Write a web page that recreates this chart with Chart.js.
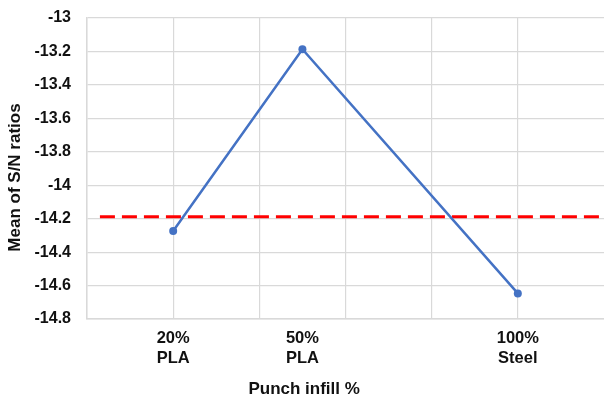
<!DOCTYPE html>
<html>
<head>
<meta charset="utf-8">
<script src="https://cdn.jsdelivr.net/npm/chart.js@4/dist/chart.umd.min.js"></script>
<style>
  html, body { margin: 0; padding: 0; background: #ffffff; }
  #wrap { width: 604px; height: 396px; }
</style>
</head>
<body>
<div id="wrap"><canvas id="c" width="604" height="396"></canvas></div>
<script>
// Main effect of punch infill on the mean S/N ratio
const infillPct = [20, 50, 100];
const infillLabels = [['20%', 'PLA'], ['50%', 'PLA'], ['100%', 'Steel']];
const snMeans = [-14.274, -13.187, -14.647];

// Overall mean of S/N ratios (dashed reference line) and its x span
const overallMean = -14.188;
const meanLineSpan = [3, 120];

// Axis ranges
const xRange = [0, 120];
const xGridStep = 20;
const yRange = [-14.8, -13];
const yStep = 0.2;

const xTitle = 'Punch infill %';
const yTitle = 'Mean of S/N ratios';

const FONT = "'Liberation Sans', Arial, sans-serif";
const GRID = '#d9d9d9';
const TEXT = '#111111';

// Axis titles drawn beside the plot
const axisTitles = {
  id: 'axisTitles',
  afterDraw(chart) {
    const ctx = chart.ctx;
    const area = chart.chartArea;
    ctx.save();
    ctx.fillStyle = TEXT;
    ctx.font = 'bold 17px ' + FONT;
    ctx.textAlign = 'center';
    ctx.textBaseline = 'middle';
    ctx.fillText(xTitle, area.left + (area.right - area.left) * 0.42, 389);
    ctx.translate(15, (area.top + area.bottom) / 2 + 9);
    ctx.rotate(-Math.PI / 2);
    ctx.fillText(yTitle, 0, 0);
    ctx.restore();
  }
};

new Chart(document.getElementById('c'), {
  type: 'line',
  data: {
    datasets: [
      {
        data: infillPct.map((x, i) => ({ x: x, y: snMeans[i] })),
        borderColor: '#4472C4',
        backgroundColor: '#4472C4',
        borderWidth: 2.5,
        pointRadius: 4,
        pointBorderWidth: 0,
        tension: 0,
        xAxisID: 'x'
      },
      {
        data: meanLineSpan.map(x => ({ x: x, y: overallMean })),
        borderColor: '#ff0000',
        borderWidth: 3,
        borderDash: [15, 7],
        pointRadius: 0,
        tension: 0,
        xAxisID: 'x'
      }
    ]
  },
  options: {
    responsive: false,
    animation: false,
    events: [],
    layout: { autoPadding: false, padding: { top: 18, right: 0, left: 0, bottom: 0 } },
    plugins: {
      legend: { display: false },
      tooltip: { enabled: false },
      title: { display: false }
    },
    scales: {
      x: {
        type: 'linear',
        position: 'bottom',
        weight: 0,
        min: xRange[0],
        max: xRange[1],
        ticks: { display: false, stepSize: xGridStep },
        grid: {
          color: ctx => (ctx.tick && ctx.tick.value === xRange[1]) ? 'rgba(0,0,0,0)' : GRID,
          lineWidth: 1.2,
          drawTicks: false
        },
        border: { color: GRID, width: 1.5 },
        afterFit(scale) {
          scale.height = 0;
          scale.paddingLeft = 0;
          scale.paddingRight = 0;
        }
      },
      x2: {
        type: 'linear',
        position: 'bottom',
        weight: 1,
        min: xRange[0],
        max: xRange[1],
        grid: { display: false, drawTicks: false },
        border: { display: false },
        afterBuildTicks(scale) {
          scale.ticks = infillPct.map(v => ({ value: v }));
        },
        ticks: {
          autoSkip: false,
          maxRotation: 0,
          padding: 9,
          color: TEXT,
          font: { family: FONT, size: 16.5, weight: 'bold', lineHeight: 1.25 },
          callback(value) {
            const i = infillPct.indexOf(value);
            return i >= 0 ? infillLabels[i] : '';
          }
        },
        afterFit(scale) {
          scale.height = 77;
          scale.paddingLeft = 0;
          scale.paddingRight = 0;
        }
      },
      y: {
        min: yRange[0],
        max: yRange[1],
        ticks: {
          stepSize: yStep,
          padding: 16,
          color: TEXT,
          font: { family: FONT, size: 16, weight: 'bold' },
          callback(value) { return String(Number(value.toFixed(1))); }
        },
        grid: { color: GRID, lineWidth: 1.2, drawTicks: false },
        border: { color: GRID, width: 1.5 },
        afterFit(scale) {
          scale.width = 87;
          scale.paddingTop = 0;
          scale.paddingBottom = 0;
        }
      }
    }
  },
  plugins: [axisTitles]
});
</script>
</body>
</html>
